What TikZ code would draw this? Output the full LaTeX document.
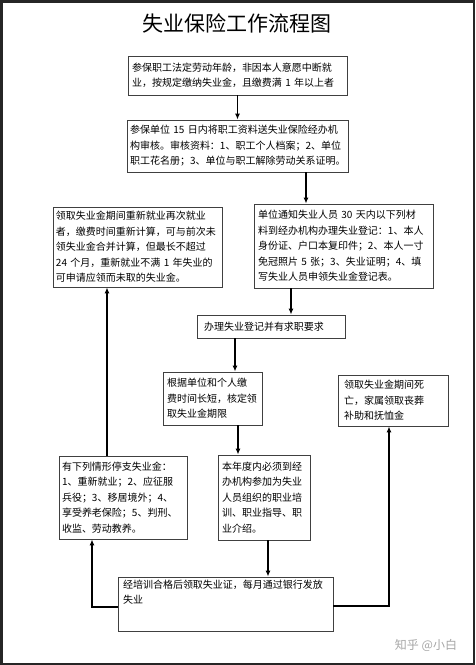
\documentclass[tikz,border=0pt]{standalone}
\usepackage{fontspec}
\setmainfont{Noto Sans CJK SC}
\newfontfamily\cjk{Noto Sans CJK SC}
\usetikzlibrary{arrows.meta,calc}
\tikzset{
  box/.style={draw=black!75, line width=0.8pt, inner xsep=4pt, inner ysep=2pt, align=left,
    font=\cjk\fontsize{10}{15.5}\selectfont, anchor=center},
  arr/.style={line width=1.5pt, -{Latex[length=6pt,width=5pt]}},
  seg/.style={line width=1.5pt},
}
\begin{document}
\begin{tikzpicture}[x=1pt,y=-1pt]
\useasboundingbox (0,0) rectangle (475,665);
\draw[line width=2.5pt, black!85] (1.25,1.25) rectangle (473.75,663.75);
\node[font=\cjk\fontsize{21}{24}\selectfont] (title) at (237,23) {失业保险工作流程图};

\node[box, text width=211pt, minimum height=39pt] (b1) at (237.5,75.5)
  {参保职工法定劳动年龄，非因本人意愿中断就\\业，按规定缴纳失业金，且缴费满 1 年以上者};
\node[box, inner xsep=3pt, text width=215pt, minimum height=52pt] (b2) at (237.5,146)
  {参保单位 15 日内将职工资料送失业保险经办机\\构审核。审核资料：1、职工个人档案；2、单位\\职工花名册；3、单位与职工解除劳动关系证明。};
\node[box, inner xsep=3pt, text width=163pt, minimum height=80pt] (lb) at (137.5,247)
  {领取失业金期间重新就业再次就业\\者，缴费时间重新计算，可与前次未\\领失业金合并计算，但最长不超过\\24 个月，重新就业不满 1 年失业的\\可申请应领而未取的失业金。};
\node[box, text width=171pt, minimum height=84pt] (rb) at (343.5,246)
  {单位通知失业人员 30 天内以下列材\\料到经办机构办理失业登记：1、本人\\身份证、户口本复印件；2、本人一寸\\免冠照片 5 张；3、失业证明；4、填\\写失业人员申领失业金登记表。};
\node[box, inner xsep=7pt, text width=134pt, minimum height=23pt] (reg) at (271,326.5)
  {办理失业登记并有求职要求};
\node[box, text width=91pt, minimum height=53pt] (dur) at (212.5,398.5)
  {根据单位和个人缴\\费时间长短，核定领\\取失业金期限};
\node[box, inner xsep=6pt, text width=98pt, minimum height=51pt] (dth) at (393,400.5)
  {领取失业金期间死\\亡，家属领取丧葬\\补助和抚恤金};
\node[box, inner xsep=3pt, text width=122pt, minimum height=83pt] (stp) at (123,497.5)
  {有下列情形停支失业金：\\1、重新就业；2、应征服\\兵役；3、移居境外；4、\\享受养老保险；5、判刑、\\收监、劳动教养。};
\node[box, inner xsep=4pt, text width=84pt, minimum height=85pt] (trn) at (264,497.5)
  {本年度内必须到经\\办机构参加为失业\\人员组织的职业培\\训、职业指导、职\\业介绍。};
\node[box, inner xsep=5pt, inner ysep=0pt, text width=205pt, minimum height=54pt] (pay) at (225.5,604)
  {\parbox[t][50pt][t]{205pt}{\vspace{1pt}经培训合格后领取失业证，每月通过银行发放\\失业}};
\node[font=\cjk\fontsize{12}{14}\selectfont, text=black!35] (wm) at (426,645) {知乎 @小白};

\coordinate (p2) at (306,0);
\coordinate (p3) at (291,0);
\coordinate (p4) at (235,0);
\coordinate (p5) at (238,0);
\coordinate (p6) at (268,0);
\coordinate (p7) at (92,607);
\coordinate (p8) at (107,0);
\coordinate (p9) at (389,606);

\draw[arr] (b1) -- (b2);
\draw[arr] (b2.south -| p2) -- (rb.north -| p2);
\draw[arr] (rb.south -| p3) -- (reg.north -| p3);
\draw[arr] (reg.south -| p4) -- (dur.north -| p4);
\draw[arr] (dur.south -| p5) -- (trn.north -| p5);
\draw[arr] (trn.south -| p6) -- (pay.north -| p6);
\draw[arr] (pay.west |- p7) -- (p7) -- (stp.south -| p7);
\draw[arr] (stp.north -| p8) -- (lb.south -| p8);
\draw[arr] (pay.east |- p9) -- (p9) -- (dth.south -| p9);
\end{tikzpicture}
\end{document}
